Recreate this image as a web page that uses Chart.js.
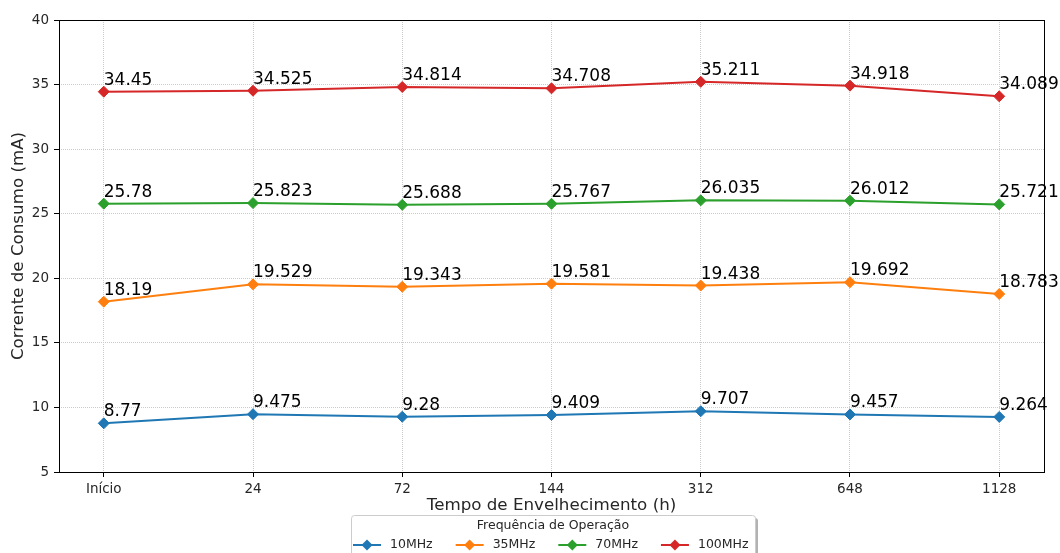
<!DOCTYPE html>
<html>
<head>
<meta charset="utf-8">
<script src="https://cdn.jsdelivr.net/npm/chart.js@4"></script>
<style>
  body { margin: 0; background: #fff; }
  #wrap { width: 1060px; height: 553px; }
</style>
</head>
<body>
<div id="wrap"><canvas id="chart" width="1060" height="553"></canvas></div>
<script>
// tempo de envelhecimento (eixo x)
const timeLabels = ['Início', '24', '72', '144', '312', '648', '1128'];
const yTicks = [5, 10, 15, 20, 25, 30, 35, 40];

// corrente de consumo (mA) por frequencia
const seriesNames = ['10MHz', '35MHz', '70MHz', '100MHz'];
const seriesColors = ['#1f77b4', '#ff7f0e', '#2ca02c', '#d62728'];
const mhz10 = [8.77, 9.475, 9.28, 9.409, 9.707, 9.457, 9.264];
const mhz35 = [18.19, 19.529, 19.343, 19.581, 19.438, 19.692, 18.783];
const mhz70 = [25.78, 25.823, 25.688, 25.767, 26.035, 26.012, 25.721];
const mhz100 = [34.45, 34.525, 34.814, 34.708, 35.211, 34.918, 34.089];
const allSeries = [mhz10, mhz35, mhz70, mhz100];

const FONT = '"DejaVu Sans", sans-serif';

const datasets = allSeries.map((values, i) => ({
    label: seriesNames[i],
    data: values.map((v, j) => ({ x: j, y: v })),
    borderColor: seriesColors[i],
    backgroundColor: seriesColors[i],
    borderWidth: 2,
    pointStyle: 'rectRot',
    pointRadius: 5.5,
    pointBorderWidth: 1,
    pointHoverRadius: 5.5,
    tension: 0
}));

// numeros em cima de cada ponto
const pointLabels = {
    id: 'pointLabels',
    afterDatasetsDraw(chart) {
        const ctx = chart.ctx;
        ctx.save();
        ctx.font = '17px ' + FONT;
        ctx.fillStyle = '#000';
        ctx.textAlign = 'left';
        ctx.textBaseline = 'alphabetic';
        chart.data.datasets.forEach((ds, i) => {
            chart.getDatasetMeta(i).data.forEach((pt, j) => {
                ctx.fillText(String(ds.data[j].y), pt.x, pt.y - 7);
            });
        });
        ctx.restore();
    }
};

// moldura completa (4 lados) como no matplotlib
const frame = {
    id: 'frame',
    afterDraw(chart) {
        const a = chart.chartArea;
        const ctx = chart.ctx;
        ctx.save();
        ctx.strokeStyle = '#000';
        ctx.lineWidth = 1;
        ctx.strokeRect(Math.round(a.left) + 0.5, Math.round(a.top) + 0.5,
            Math.round(a.right - a.left), Math.round(a.bottom - a.top));
        ctx.restore();
    }
};

// legenda em caixa, cortada na borda de baixo
const boxLegend = {
    id: 'boxLegend',
    afterDraw(chart) {
        const ctx = chart.ctx;
        const box = { x: 351, y: 515, w: 404, h: 60 };
        ctx.save();
        ctx.fillStyle = 'rgba(0,0,0,0.3)';
        ctx.beginPath();
        ctx.roundRect(box.x + 3, box.y + 3, box.w, box.h, 3);
        ctx.fill();
        ctx.fillStyle = '#fff';
        ctx.strokeStyle = '#cccccc';
        ctx.lineWidth = 1;
        ctx.beginPath();
        ctx.roundRect(box.x + 0.5, box.y + 0.5, box.w, box.h, 3);
        ctx.fill();
        ctx.stroke();

        ctx.fillStyle = '#262626';
        ctx.font = '12.5px ' + FONT;
        ctx.textAlign = 'center';
        ctx.textBaseline = 'middle';
        ctx.fillText('Frequência de Operação', 553, 526);

        ctx.textAlign = 'left';
        let x = 353;
        const y = 545;
        chart.data.datasets.forEach(ds => {
            ctx.strokeStyle = ds.borderColor;
            ctx.lineWidth = 2;
            ctx.beginPath();
            ctx.moveTo(x, y);
            ctx.lineTo(x + 28, y);
            ctx.stroke();
            ctx.fillStyle = ds.borderColor;
            ctx.beginPath();
            ctx.moveTo(x + 14 - 5.5, y);
            ctx.lineTo(x + 14, y - 5.5);
            ctx.lineTo(x + 14 + 5.5, y);
            ctx.lineTo(x + 14, y + 5.5);
            ctx.closePath();
            ctx.fill();
            ctx.fillStyle = '#262626';
            ctx.fillText(ds.label, x + 37, y);
            x += 37 + ctx.measureText(ds.label).width + 23;
        });
        ctx.restore();
    }
};

new Chart(document.getElementById('chart'), {
    type: 'line',
    data: { datasets: datasets },
    plugins: [pointLabels, frame, boxLegend],
    options: {
        responsive: false,
        animation: false,
        events: [],
        layout: { padding: { left: 0, top: 20, right: 16, bottom: 0 } },
        plugins: {
            legend: { display: false },
            tooltip: { enabled: false }
        },
        scales: {
            x: {
                type: 'linear',
                min: -0.3,
                max: 6.3,
                afterBuildTicks: s => { s.ticks = timeLabels.map((_, i) => ({ value: i })); },
                afterFit: s => { s.height = 81; },
                border: { display: false, dash: [1, 1] },
                grid: {
                    color: '#cccccc',
                    tickColor: '#000',
                    tickBorderDash: [],
                    tickLength: 5,
                    lineWidth: 1
                },
                ticks: {
                    padding: 4,
                    color: '#262626',
                    font: { family: FONT, size: 13.5 },
                    maxRotation: 0,
                    callback: v => timeLabels[v]
                },
                title: {
                    display: true,
                    text: 'Tempo de Envelhecimento (h)',
                    color: '#262626',
                    font: { family: FONT, size: 16.7 },
                    padding: { top: 0, bottom: 37 }
                }
            },
            y: {
                min: 5,
                max: 40,
                afterBuildTicks: s => { s.ticks = yTicks.map(v => ({ value: v })); },
                afterFit: s => { s.width = 59; },
                border: { display: false, dash: [1, 1] },
                grid: {
                    color: '#cccccc',
                    tickColor: '#000',
                    tickBorderDash: [],
                    tickLength: 5,
                    lineWidth: 1
                },
                ticks: {
                    padding: 5,
                    color: '#262626',
                    font: { family: FONT, size: 13.5 }
                },
                title: {
                    display: true,
                    text: 'Corrente de Consumo (mA)',
                    color: '#262626',
                    font: { family: FONT, size: 16.7 },
                    padding: { top: 9, bottom: 0 }
                }
            }
        }
    }
});
</script>
</body>
</html>
